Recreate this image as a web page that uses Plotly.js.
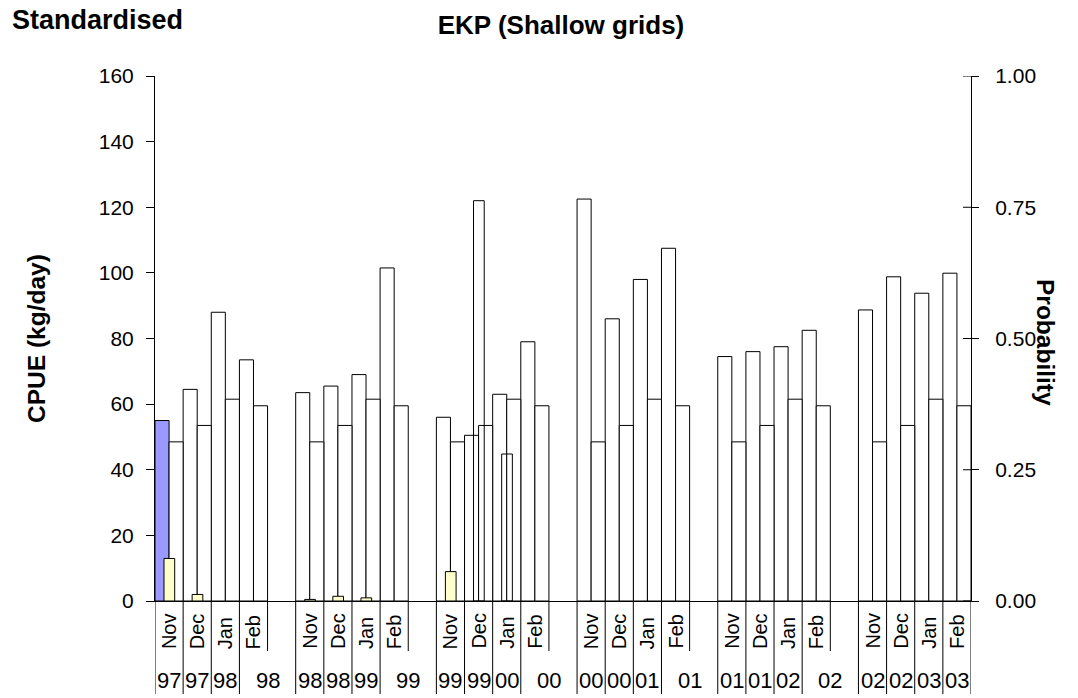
<!DOCTYPE html>
<html>
<head>
<meta charset="utf-8">
<script src="https://cdn.plot.ly/plotly-3.0.1.min.js"></script>
<style>
  html, body { margin: 0; padding: 0; background: #ffffff; }
  #chart { width: 1078px; height: 698px; }
</style>
</head>
<body>
<div id="chart"></div>
<script>
// ---------------- DATA ----------------
const months = ['Nov','Dec','Jan','Feb','Nov','Dec','Jan','Feb','Nov','Dec','Jan','Feb',
                'Nov','Dec','Jan','Feb','Nov','Dec','Jan','Feb','Nov','Dec','Jan','Feb'];
const years  = ['97','97','98','98','98','98','99','99','99','99','00','00',
                '00','00','01','01','01','01','02','02','02','02','03','03'];
// Standardised CPUE (kg/day), left bar of each month
const cpue = [55.0, 64.5, 88.0, 73.5,
              63.5, 65.5, 69.0, 101.5,
              56.0, 50.5, 63.0, 79.0,
              122.5, 86.0, 98.0, 107.5,
              74.5, 76.0, 77.5, 82.5,
              88.7, 98.8, 93.8, 99.9];
// Reference CPUE (kg/day), right bar of each month
const reference = [48.5, 53.5, 61.5, 59.5,
                   48.5, 53.5, 61.5, 59.5,
                   48.5, 53.5, 61.5, 59.5,
                   48.5, 53.5, 61.5, 59.5,
                   48.5, 53.5, 61.5, 59.5,
                   48.5, 53.5, 61.5, 59.5];
// Probability (right axis), narrow centre bar
const probability = [0.081, 0.0125, null, null,
                     0.003, 0.009, 0.006, null,
                     0.056, 0.7625, 0.28, null,
                     null, null, null, null,
                     null, null, null, null,
                     null, null, null, null];
const yTicksLeft = [0, 20, 40, 60, 80, 100, 120, 140, 160];
const yTicksRight = [0, 0.25, 0.5, 0.75, 1.0];

// ---------------- STYLE / LAYOUT HELPERS ----------------
const FONT = 'Liberation Sans, Arial, sans-serif';
const highlighted = ['Nov 97'];          // blue filled CPUE bar
const hollowCentre = ['Dec 99', 'Jan 00']; // centre bars drawn without fill

const keys = months.map((m, i) => m + ' ' + years[i]);
const cats = [];
const pos = [];
keys.forEach((k, i) => {
  pos.push(cats.length);
  cats.push(k);
  if (i % 4 === 3 && i < keys.length - 1) cats.push('gap' + i);
});

const L = 155, R = 971, T = 76, B = 601;
const W = 1078, H = 698;
const px2x = px => (px - L) / (R - L);
const py2y = py => (B - py) / (B - T);

const leftColors = keys.map(k => highlighted.includes(k) ? '#9999FF' : '#FFFFFF');
const centreColors = keys.map(k => hollowCentre.includes(k) ? 'rgba(255,255,255,0)' : '#FFFFCC');

const traces = [
  { type: 'bar', x: keys, y: cpue, yaxis: 'y', offset: -0.5, width: 0.5,
    marker: { color: leftColors, line: { color: '#000000', width: 1 } },
    hoverinfo: 'x+y', showlegend: false },
  { type: 'bar', x: keys, y: reference, yaxis: 'y', offset: 0, width: 0.5,
    marker: { color: '#FFFFFF', line: { color: '#000000', width: 1 } },
    hoverinfo: 'x+y', showlegend: false },
  { type: 'bar', x: keys, y: probability, yaxis: 'y2', offset: -0.18, width: 0.38,
    marker: { color: centreColors, line: { color: '#000000', width: 1 } },
    hoverinfo: 'x+y', showlegend: false }
];

const shapes = [];
const annotations = [];
const yFull = py2y(694), yMonth = py2y(651);
keys.forEach((k, i) => {
  const p = pos[i];
  shapes.push({ type: 'line', xref: 'x', yref: 'paper', x0: p - 0.5, x1: p - 0.5,
                y0: 0, y1: yFull, line: { color: '#000000', width: 1 } });
  const last = i === keys.length - 1;
  if (i % 4 === 3) {
    shapes.push({ type: 'line', xref: 'x', yref: 'paper', x0: p + 0.5, x1: p + 0.5,
                  y0: 0, y1: last ? yFull : yMonth, line: { color: '#000000', width: 1 } });
  }
  annotations.push({ xref: 'x', yref: 'paper', x: p, y: yMonth, text: months[i],
                     textangle: -90, showarrow: false, xanchor: 'center', yanchor: 'bottom',
                     font: { family: FONT, size: 20, color: '#000000' } });
  annotations.push({ xref: 'x', yref: 'paper', x: (i % 4 === 3 && !last) ? p + 0.5 : p,
                     y: py2y(680), text: years[i], showarrow: false,
                     xanchor: 'center', yanchor: 'middle',
                     font: { family: FONT, size: 22, color: '#000000' } });
});
// inner half of the crossing ticks on the right axis
yTicksRight.forEach(v => {
  shapes.push({ type: 'line', xref: 'paper', yref: 'y2', x0: px2x(963), x1: 1,
                y0: v, y1: v, line: { color: '#000000', width: 1 } });
});

annotations.push({ xref: 'paper', yref: 'paper', x: px2x(10), y: py2y(20),
                   xanchor: 'left', yanchor: 'middle', showarrow: false,
                   text: '<b>Standardised</b>',
                   font: { family: FONT, size: 27, color: '#000000' } });
annotations.push({ xref: 'paper', yref: 'paper', x: px2x(36), y: py2y(338),
                   xanchor: 'center', yanchor: 'middle', showarrow: false, textangle: -90,
                   text: '<b>CPUE (kg/day)</b>',
                   font: { family: FONT, size: 24.5, color: '#000000' } });
annotations.push({ xref: 'paper', yref: 'paper', x: px2x(1045), y: py2y(342),
                   xanchor: 'center', yanchor: 'middle', showarrow: false, textangle: 90,
                   text: '<b>Probability</b>',
                   font: { family: FONT, size: 24.5, color: '#000000' } });

const layout = {
  width: W, height: H,
  margin: { l: L, r: W - R, t: T, b: H - B, pad: 0 },
  paper_bgcolor: '#FFFFFF', plot_bgcolor: '#FFFFFF',
  font: { family: FONT, color: '#000000' },
  title: { text: '<b>EKP (Shallow grids)</b>', x: 561 / W, xanchor: 'center',
           xref: 'container', yref: 'container', y: 1 - 25 / H, yanchor: 'middle',
           font: { family: FONT, size: 26, color: '#000000' } },
  barmode: 'overlay',
  showlegend: false,
  xaxis: { type: 'category', categoryorder: 'array', categoryarray: cats,
           range: [-0.5, cats.length - 0.5], showticklabels: false, ticks: '',
           showline: true, linecolor: '#000000', linewidth: 1,
           showgrid: false, zeroline: false, fixedrange: true },
  yaxis: { range: [0, 160], tickvals: yTicksLeft, ticks: 'outside', ticklen: 8,
           tickcolor: '#000000', showline: true, linecolor: '#000000', linewidth: 1,
           showgrid: false, zeroline: false, ticklabelstandoff: 8,
           tickfont: { family: FONT, size: 21, color: '#000000' } },
  yaxis2: { overlaying: 'y', side: 'right', range: [0, 1], tickvals: yTicksRight,
            tickformat: '.2f', ticks: 'outside', ticklen: 7, tickcolor: '#000000',
            showline: true, linecolor: '#000000', linewidth: 1,
            showgrid: false, zeroline: false, ticklabelstandoff: 12,
            tickfont: { family: FONT, size: 21, color: '#000000' } },
  shapes: shapes,
  annotations: annotations
};

Plotly.newPlot('chart', traces, layout, { displayModeBar: false, staticPlot: true });
</script>
</body>
</html>
